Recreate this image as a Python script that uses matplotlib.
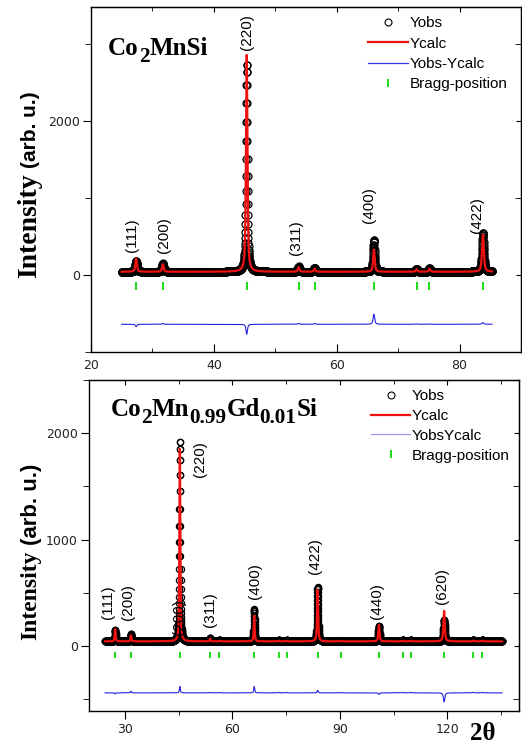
import numpy as np
import matplotlib
matplotlib.use('Agg')
import matplotlib.pyplot as plt
from matplotlib.lines import Line2D
from matplotlib.ticker import MultipleLocator

# ---- Co2MnSi (top panel) ----
top_range = (25.0, 85.3)
top_base = 42
top_pos = [27.35, 31.7, 45.35, 53.8, 56.4, 66.05, 73.0, 75.1, 83.8]
top_obs = [185, 150, 2740, 110, 90, 460, 80, 85, 545]
top_calc = [215, 140, 2870, 100, 80, 330, 75, 80, 525]
top_fwhm = [0.30, 0.30, 0.28, 0.30, 0.30, 0.30, 0.30, 0.30, 0.35]
top_diff_offset = -640
top_bragg_y = -140
top_hkl = ['(111)', '(200)', '(220)', '(311)', '(400)', '(422)']
top_hkl_x = [26.7, 31.9, 45.4, 53.3, 65.3, 82.8]
top_hkl_y = [300, 285, 2920, 260, 675, 545]

# ---- Co2Mn0.99Gd0.01Si (bottom panel) ----
bot_range = (24.5, 135.3)
bot_base = 44
bot_pos = [27.3, 31.7, 45.35, 53.8, 56.4, 66.1, 73.0, 75.2, 83.8, 90.3,
           100.9, 107.6, 109.8, 119.1, 127.2, 129.8]
bot_obs = [150, 115, 1920, 75, 55, 345, 55, 55, 555, 50,
           185, 55, 55, 245, 55, 55]
bot_calc = [160, 100, 1860, 70, 50, 285, 50, 50, 530, 48,
            200, 50, 50, 330, 50, 50]
bot_fwhm = [0.30, 0.30, 0.30, 0.30, 0.30, 0.30, 0.30, 0.30, 0.35, 0.35,
            0.40, 0.40, 0.40, 0.45, 0.45, 0.45]
bot_diff_offset = -440
bot_bragg_y = -88
bot_hkl = ['(111)', '(200)', '(220)', '(200)', '(311)', '(400)', '(422)', '(440)', '(620)']
bot_hkl_x = [25.4, 31.0, 51.0, 45.2, 53.8, 66.4, 83.2, 100.4, 118.6]
bot_hkl_y = [257, 244, 1587, 103, 178, 444, 679, 257, 396]

RED = '#ee1111'
BLUE = '#2222dd'
GREEN = '#22dd22'
SANS = 'Liberation Sans'
SERIF = 'Liberation Serif'


def profile(x, pos, heights, fwhm, base):
	# pseudo-Voigt sum over the reflections
	y = np.full_like(x, float(base))
	for p, h, w in zip(pos, heights, fwhm):
		g = np.exp(-4 * np.log(2) * ((x - p) / w) ** 2)
		l = 1 / (1 + 4 * ((x - p) / w) ** 2)
		y += (h - base) * (0.35 * g + 0.65 * l)
	return y


def chem_label(fig, ax, x, y, parts, size):
	renderer = fig.canvas.get_renderer()
	dx = 0
	for txt, sub in parts:
		fs = size * 0.85 if sub else size
		dy = -size * 0.25 if sub else 0
		t = ax.annotate(txt, (x, y), xycoords='axes fraction', xytext=(dx, dy),
						textcoords='offset points', fontsize=fs, family=SERIF,
						weight='bold', va='baseline', ha='left')
		dx += t.get_window_extent(renderer).width * 72 / fig.dpi


def draw_panel(ax, xr, base, pos, obs, calc, fwhm, diff_off, bragg_y, ms, bragg_ms):
	x = np.arange(xr[0], xr[1], 0.02)
	yo = profile(x, pos, obs, fwhm, base)
	yc = profile(x, pos, calc, fwhm, base)
	ax.plot(x, yo, 'o', mfc='none', mec='black', ms=ms, mew=0.9, zorder=2)
	ax.plot(x, yc, color=RED, lw=1.6, zorder=3)
	ax.plot(x, yo - yc + diff_off, color=BLUE, lw=0.8, zorder=3)
	ax.plot(pos, [bragg_y] * len(pos), '|', color=GREEN, ms=bragg_ms, mew=1.5, zorder=3)


def style_axes(ax, bottom_dir, xmaj, xmin, ymaj, ymin):
	ax.xaxis.set_major_locator(MultipleLocator(xmaj))
	ax.xaxis.set_minor_locator(MultipleLocator(xmin))
	ax.yaxis.set_major_locator(MultipleLocator(ymaj))
	ax.yaxis.set_minor_locator(MultipleLocator(ymin))
	for s in ax.spines.values():
		s.set_linewidth(1.0)
	ax.tick_params(axis='y', which='both', left=True, right=False, direction='out',
				   labelsize=9, labelcolor='#222222', pad=2)
	ax.tick_params(axis='y', which='major', length=6)
	ax.tick_params(axis='y', which='minor', length=4)
	ax.tick_params(axis='x', which='both', direction=bottom_dir, labelsize=9,
				   labelcolor='#222222', top=False)
	ax.tick_params(axis='x', which='major', length=6)
	ax.tick_params(axis='x', which='minor', length=3)
	sx = ax.secondary_xaxis('top')
	sx.xaxis.set_major_locator(MultipleLocator(xmaj))
	sx.xaxis.set_minor_locator(MultipleLocator(xmin))
	sx.tick_params(which='both', direction='in', labeltop=False)
	sx.tick_params(which='minor', length=3)
	sy = ax.secondary_yaxis('right')
	sy.yaxis.set_major_locator(MultipleLocator(ymaj))
	sy.yaxis.set_minor_locator(MultipleLocator(ymin))
	sy.tick_params(which='both', direction='in', labelright=False)
	sy.tick_params(which='minor', length=4)


def legend(ax, diff_label, diff_color, x_anchor, spacing):
	handles = [
		Line2D([], [], marker='o', ls='none', mfc='none', mec='black', ms=5, mew=0.8),
		Line2D([], [], color=RED, lw=1.6),
		Line2D([], [], color=diff_color, lw=0.9),
		Line2D([], [], marker='|', ls='none', color=GREEN, ms=6, mew=1.5),
	]
	labels = ['Yobs', 'Ycalc', diff_label, 'Bragg-position']
	ax.legend(handles, labels, loc='upper right', bbox_to_anchor=(x_anchor, 1.0),
			  frameon=False, handlelength=2.6, handletextpad=0.1, labelspacing=spacing,
			  borderaxespad=0.2, prop={'family': SANS, 'size': 11})


fig = plt.figure(figsize=(5.22, 7.44), dpi=100)
ax1 = fig.add_axes([0.1743, 0.5269, 0.8238, 0.4637])
ax2 = fig.add_axes([0.1705, 0.0444, 0.8238, 0.4449])

# top panel
draw_panel(ax1, top_range, top_base, top_pos, top_obs, top_calc, top_fwhm,
		   top_diff_offset, top_bragg_y, 5, 6)
ax1.set_xlim(20, 90)
ax1.set_ylim(-1000, 3480)
style_axes(ax1, 'in', 20, 10, 2000, 1000)
ax1.tick_params(axis='x', pad=5)
for lab, hx, hy in zip(top_hkl, top_hkl_x, top_hkl_y):
	ax1.text(hx, hy, lab, rotation=90, ha='center', va='bottom', fontsize=11, family=SANS)
legend(ax1, 'Yobs-Ycalc', '#3333ee', 0.99, 0.42)

# bottom panel
draw_panel(ax2, bot_range, bot_base, bot_pos, bot_obs, bot_calc, bot_fwhm,
		   bot_diff_offset, bot_bragg_y, 4.5, 5)
ax2.set_xlim(20, 140)
ax2.set_ylim(-610, 2500)
style_axes(ax2, 'out', 30, 15, 1000, 500)
ax2.tick_params(axis='x', pad=3)
for lab, hx, hy in zip(bot_hkl, bot_hkl_x, bot_hkl_y):
	ax2.text(hx, hy, lab, rotation=90, ha='center', va='bottom', fontsize=11, family=SANS)
legend(ax2, 'YobsYcalc', '#9999ee', 1.0, 0.38)

# compound names
chem_label(fig, ax1, 0.04, 0.86, [('Co', 0), ('2', 1), ('MnSi', 0)], 18)
chem_label(fig, ax2, 0.05, 0.89, [('Co', 0), ('2', 1), ('Mn', 0), ('0.99', 1),
								  ('Gd', 0), ('0.01', 1), ('Si', 0)], 18)

# y labels: serif "Intensity" + sans "(arb. u.)"
fig.text(30 / 522, 1 - 278 / 744, 'Intensity', rotation=90, ha='center', va='bottom',
		 fontsize=20, family=SERIF, weight='bold')
fig.text(31 / 522, 1 - 168 / 744, '(arb. u.)', rotation=90, ha='center', va='bottom',
		 fontsize=15, family=SANS, weight='bold')
fig.text(31 / 522, 1 - 640 / 744, 'Intensity', rotation=90, ha='center', va='bottom',
		 fontsize=17, family=SERIF, weight='bold')
fig.text(31 / 522, 1 - 545 / 744, '(arb. u.)', rotation=90, ha='center', va='bottom',
		 fontsize=16, family=SANS, weight='bold')
fig.text(483 / 522, 1 - 733 / 744, '2\u03b8', ha='center', va='center',
		 fontsize=18, family=SERIF, weight='bold')

fig.savefig('out.png', dpi=100)
plt.close()
